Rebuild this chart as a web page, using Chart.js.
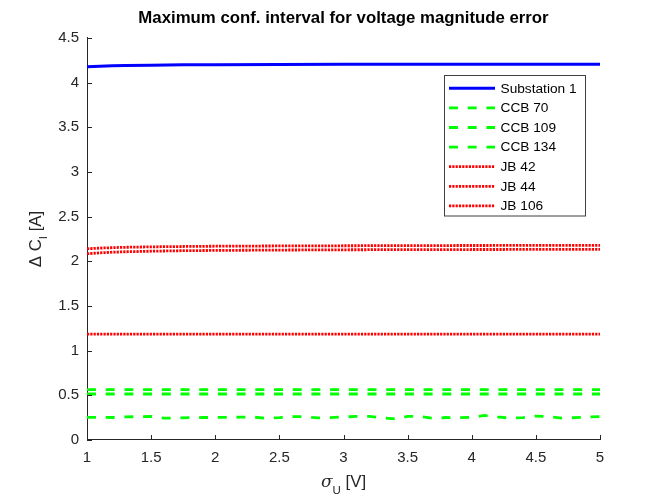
<!DOCTYPE html>
<html>
<head>
<meta charset="utf-8">
<script src="https://cdn.jsdelivr.net/npm/chart.js@4/dist/chart.umd.min.js"></script>
<style>
  html, body { margin: 0; padding: 0; background: #ffffff; }
  #wrap { width: 664px; height: 498px; }
</style>
</head>
<body>
<div id="wrap"><canvas id="c" width="664" height="498"></canvas></div>
<script>
// ---- data ----
const chartTitle = "Maximum conf. interval for voltage magnitude error";
const xTicks = [1, 1.5, 2, 2.5, 3, 3.5, 4, 4.5, 5];
const yTicks = [0, 0.5, 1, 1.5, 2, 2.5, 3, 3.5, 4, 4.5];

const xSmooth = [1, 1.1, 1.2, 1.3, 1.5, 1.75, 2, 2.5, 3, 3.5, 4, 4.5, 5];
const substation1 = [4.178, 4.184, 4.188, 4.191, 4.195, 4.199, 4.201, 4.203, 4.205, 4.206, 4.207, 4.207, 4.207];
const ccb70  = [0.563, 0.563, 0.563, 0.563, 0.563, 0.563, 0.563, 0.563, 0.563, 0.563, 0.563, 0.563, 0.563];
const ccb109 = [0.515, 0.515, 0.515, 0.515, 0.515, 0.515, 0.515, 0.515, 0.515, 0.515, 0.515, 0.515, 0.515];
const jb42  = [2.140, 2.148, 2.153, 2.157, 2.162, 2.166, 2.169, 2.172, 2.174, 2.176, 2.177, 2.178, 2.179];
const jb44  = [2.085, 2.095, 2.102, 2.107, 2.113, 2.119, 2.122, 2.126, 2.129, 2.131, 2.132, 2.133, 2.134];
const jb106 = [1.185, 1.185, 1.185, 1.185, 1.185, 1.185, 1.185, 1.185, 1.185, 1.185, 1.185, 1.185, 1.185];

const xFine = [1.0, 1.1, 1.2, 1.3, 1.4, 1.5, 1.6, 1.7, 1.8, 1.9, 2.0, 2.1, 2.2, 2.3, 2.4, 2.5, 2.6, 2.7, 2.8, 2.9, 3.0,
               3.1, 3.2, 3.3, 3.4, 3.5, 3.6, 3.7, 3.8, 3.9, 4.0, 4.1, 4.2, 4.3, 4.4, 4.5, 4.6, 4.7, 4.8, 4.9, 5.0];
const ccb134 = [0.253, 0.253, 0.252, 0.258, 0.262, 0.263, 0.244, 0.246, 0.250, 0.252, 0.252, 0.254, 0.255, 0.256, 0.243,
                0.250, 0.262, 0.260, 0.248, 0.250, 0.258, 0.264, 0.264, 0.250, 0.236, 0.265, 0.262, 0.242, 0.252, 0.250,
                0.253, 0.275, 0.258, 0.245, 0.250, 0.268, 0.262, 0.244, 0.250, 0.258, 0.262];

const seriesLabels = ["Substation 1", "CCB 70", "CCB 109", "CCB 134", "JB 42", "JB 44", "JB 106"];

function pts(xs, ys) { return xs.map((x, i) => ({ x: x, y: ys[i] })); }

const SANS = '"Liberation Sans", Arial, Helvetica, sans-serif';
const AXIS_COLOR = '#262626';
const BLUE = '#0000ff', GREEN = '#00ff00', RED = '#ff0000';
const DASH = [9, 9.7], DOT = [2.2, 1.1];

function ds(label, data, color, dash, width) {
  return {
    label: label, data: data, borderColor: color, backgroundColor: color,
    borderWidth: width, borderDash: dash, pointRadius: 0, pointHoverRadius: 0,
    tension: 0, fill: false, borderCapStyle: 'butt', borderJoinStyle: 'miter'
  };
}

const datasets = [
  ds(seriesLabels[0], pts(xSmooth, substation1), BLUE, [], 3),
  ds(seriesLabels[1], pts(xSmooth, ccb70), GREEN, DASH, 2.8),
  ds(seriesLabels[2], pts(xSmooth, ccb109), GREEN, DASH, 2.8),
  ds(seriesLabels[3], pts(xFine, ccb134), GREEN, DASH, 2.8),
  ds(seriesLabels[4], pts(xSmooth, jb42), RED, DOT, 2.8),
  ds(seriesLabels[5], pts(xSmooth, jb44), RED, DOT, 2.8),
  ds(seriesLabels[6], pts(xSmooth, jb106), RED, DOT, 2.8)
];

// inward tick marks (MATLAB style)
const tickPlugin = {
  id: 'inwardTicks',
  afterDatasetsDraw(chart) {
    const ctx = chart.ctx, a = chart.chartArea;
    const xs = chart.scales.x, ys = chart.scales.y;
    ctx.save();
    ctx.strokeStyle = AXIS_COLOR; ctx.lineWidth = 1;
    ctx.beginPath();
    xTicks.forEach(v => {
      const px = Math.round(xs.getPixelForValue(v)) + 0.5;
      ctx.moveTo(px, a.bottom); ctx.lineTo(px, a.bottom - 5);
    });
    yTicks.forEach(v => {
      const py = Math.round(ys.getPixelForValue(v)) + 0.5;
      ctx.moveTo(a.left, py); ctx.lineTo(a.left + 5, py);
    });
    ctx.stroke();
    ctx.restore();
  }
};

// legend box with line samples
const legendPlugin = {
  id: 'matlabLegend',
  afterDatasetsDraw(chart) {
    const ctx = chart.ctx;
    const bx = 444.5, by = 75.5, bw = 141, bh = 140.5;
    ctx.save();
    ctx.fillStyle = '#ffffff';
    ctx.fillRect(bx, by, bw, bh);
    ctx.strokeStyle = '#404040'; ctx.lineWidth = 1;
    ctx.strokeRect(bx, by, bw, bh);
    chart.data.datasets.forEach((d, i) => {
      const y = 88.3 + i * 19.6;
      ctx.strokeStyle = d.borderColor;
      ctx.lineWidth = d.borderWidth;
      ctx.setLineDash(d.borderDash || []);
      ctx.lineCap = 'butt';
      ctx.beginPath();
      ctx.moveTo(449, y); ctx.lineTo(495, y);
      ctx.stroke();
      ctx.setLineDash([]);
      ctx.fillStyle = '#000000';
      ctx.font = '13.7px ' + SANS;
      ctx.textAlign = 'left'; ctx.textBaseline = 'middle';
      ctx.fillText(d.label, 500.5, y + 0.5);
    });
    ctx.restore();
  }
};

// axis titles with sub-scripts
const axisTitlePlugin = {
  id: 'axisTitles',
  afterDraw(chart) {
    const ctx = chart.ctx, a = chart.chartArea;
    ctx.save();
    ctx.fillStyle = AXIS_COLOR;
    ctx.textBaseline = 'alphabetic';
    ctx.textAlign = 'left';
    // x label: sigma_U [V]
    const mainF = '16.8px ' + SANS, symF = 'italic 17px "DejaVu Serif", "Liberation Serif", serif', subF = '11.5px ' + SANS;
    let parts = [
      { t: 'σ', f: symF, dy: 0 },
      { t: 'U', f: subF, dy: 7 },
      { t: ' [V]', f: mainF, dy: 0 }
    ];
    let total = 0;
    parts.forEach(p => { ctx.font = p.f; p.w = ctx.measureText(p.t).width; total += p.w; });
    let x = (a.left + a.right) / 2 - total / 2;
    const base = 487;
    parts.forEach(p => { ctx.font = p.f; ctx.fillText(p.t, x, base + p.dy); x += p.w; });

    // y label: Delta C_I [A]
    parts = [
      { t: 'Δ C', f: mainF, dy: 0 },
      { t: 'I', f: subF, dy: 6 },
      { t: ' [A]', f: mainF, dy: 0 }
    ];
    total = 0;
    parts.forEach(p => { ctx.font = p.f; p.w = ctx.measureText(p.t).width; total += p.w; });
    ctx.translate(41, (a.top + a.bottom) / 2);
    ctx.rotate(-Math.PI / 2);
    x = -total / 2;
    parts.forEach(p => { ctx.font = p.f; ctx.fillText(p.t, x, p.dy); x += p.w; });
    ctx.restore();
  }
};

new Chart(document.getElementById('c'), {
  type: 'line',
  data: { datasets: datasets },
  options: {
    responsive: false,
    devicePixelRatio: 1,
    animation: false,
    events: [],
    layout: { padding: { top: 0, right: 64, left: 0, bottom: 0 } },
    plugins: {
      legend: { display: false },
      tooltip: { enabled: false },
      title: {
        display: true, text: chartTitle, fullSize: false, color: '#000000',
        font: { family: SANS, size: 16.8, weight: 'bold' },
        padding: { top: 8.4, bottom: 9.4 }
      }
    },
    scales: {
      x: {
        type: 'linear', min: 1, max: 5,
        afterBuildTicks: s => { s.ticks = xTicks.map(v => ({ value: v })); },
        afterFit: s => { s.height = 58; },
        grid: { display: false, drawTicks: false },
        border: { display: true, color: AXIS_COLOR, width: 1 },
        ticks: { color: AXIS_COLOR, font: { family: SANS, size: 15 }, padding: 9, maxRotation: 0,
                 callback: v => String(v) }
      },
      y: {
        type: 'linear', min: 0, max: 4.5,
        afterBuildTicks: s => { s.ticks = yTicks.map(v => ({ value: v })); },
        afterFit: s => { s.width = 87; },
        grid: { display: false, drawTicks: false },
        border: { display: true, color: AXIS_COLOR, width: 1 },
        ticks: { color: AXIS_COLOR, font: { family: SANS, size: 15 }, padding: 8,
                 callback: v => String(v) }
      }
    }
  },
  plugins: [tickPlugin, legendPlugin, axisTitlePlugin]
});
</script>
</body>
</html>
